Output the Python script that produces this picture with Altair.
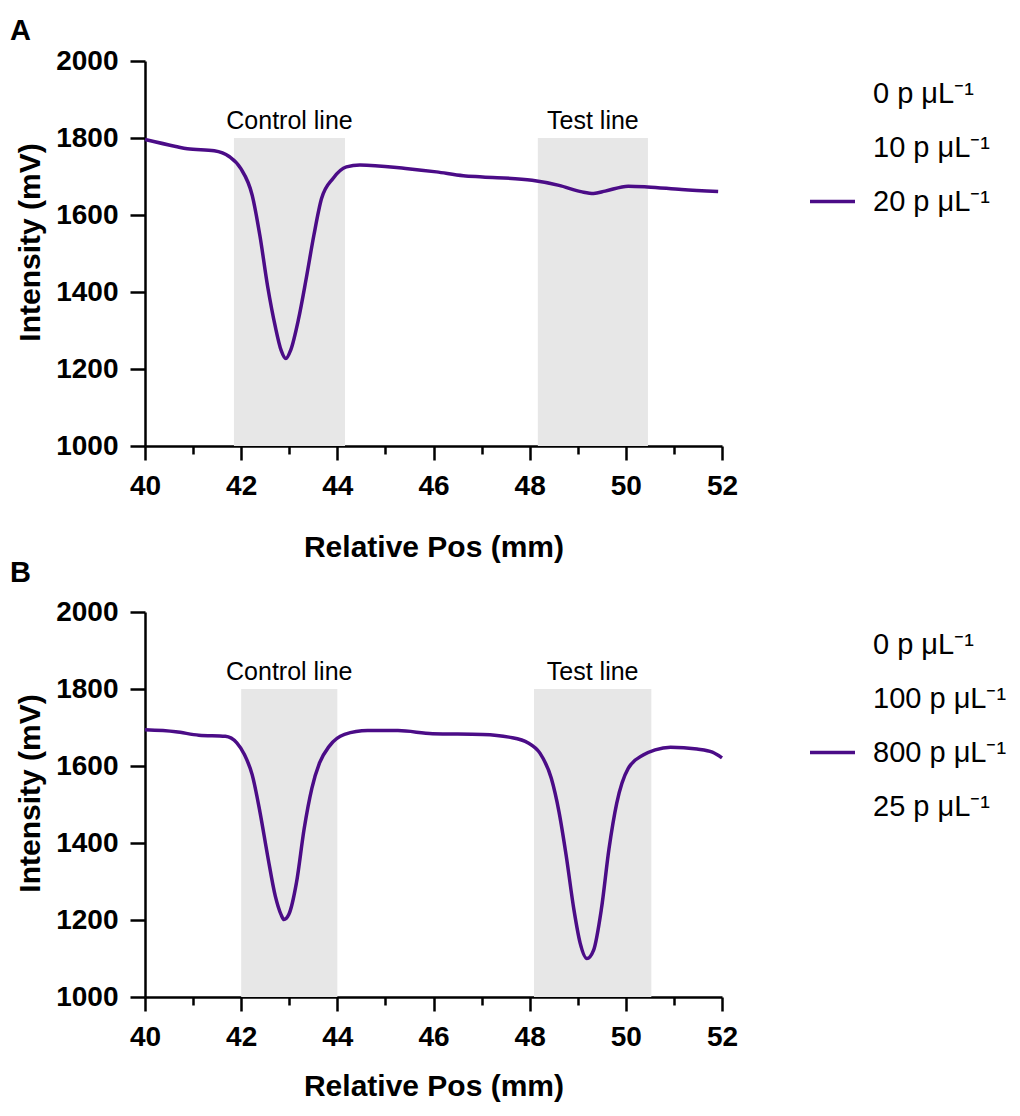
import altair as alt
import pandas as pd

FONT = "Liberation Sans"
LINE_COLOR = "#4B0C87"
BAND_COLOR = "#E7E7E7"

# Panel A curve
pos_a = [40.0, 40.64, 40.88, 41.44, 41.75, 41.99, 42.23, 42.39, 42.55, 42.71, 42.83, 42.93,
         43.03, 43.19, 43.35, 43.51, 43.67, 43.91, 44.19, 44.47, 45.42, 46.06, 46.62, 47.02,
         48.05, 48.61, 49.09, 49.33, 49.57, 50.05, 50.45, 51.16, 51.92]
int_a = [1796, 1778, 1772, 1767, 1752, 1721, 1651, 1546, 1415, 1310, 1249, 1227,
         1249, 1328, 1433, 1546, 1642, 1695, 1725, 1730, 1721, 1712, 1702, 1699,
         1690, 1677, 1660, 1656, 1662, 1675, 1673, 1666, 1661]

# Panel B curve
pos_b = [40.0, 40.64, 41.12, 41.67, 41.91, 42.07, 42.23, 42.39, 42.55, 42.71, 42.83, 42.89,
         42.99, 43.15, 43.31, 43.47, 43.63, 43.83, 44.15, 44.63, 45.26, 45.98, 47.02, 47.57,
         47.97, 48.21, 48.45, 48.61, 48.76, 48.92, 49.05, 49.19, 49.33, 49.49, 49.65, 49.81,
         50.05, 50.37, 50.61, 50.93, 51.48, 51.8, 52.0]
int_b = [1694, 1689, 1680, 1677, 1660, 1629, 1577, 1481, 1367, 1262, 1214, 1201,
         1214, 1297, 1437, 1542, 1608, 1651, 1682, 1692, 1692, 1684, 1682, 1675,
         1660, 1634, 1568, 1481, 1367, 1227, 1140, 1100, 1122, 1227, 1385, 1503,
         1594, 1629, 1642, 1649, 1644, 1636, 1621]

band_labels = ["Control line", "Test line"]
band_start_a = [41.85, 48.17]
band_end_a = [44.16, 50.46]
band_start_b = [42.0, 48.09]
band_end_b = [44.0, 50.53]
band_low = 1000
band_high = 1800

legend_a = ["0 p μL⁻¹", "10 p μL⁻¹", "20 p μL⁻¹"]
legend_b = ["0 p μL⁻¹", "100 p μL⁻¹", "800 p μL⁻¹", "25 p μL⁻¹"]
shown_a = "20 p μL⁻¹"
shown_b = "800 p μL⁻¹"

x_ticks = list(range(40, 53))
y_ticks = list(range(1000, 2001, 100))


def panel(letter, pos, inten, starts, ends, legend_labels, shown, x_title_pad, title_offset):
    curve = pd.DataFrame({"pos": pos, "intensity": inten, "series": shown})
    bands = pd.DataFrame({"start": starts, "end": ends, "label": band_labels,
                          "low": band_low, "high": band_high})
    xs = alt.Scale(domain=[40, 52], nice=False, zero=False)
    ys = alt.Scale(domain=[1000, 2000], nice=False, zero=False)
    x_axis = alt.Axis(values=x_ticks, title="Relative Pos (mm)",
                      labelExpr="datum.value % 2 == 0 ? datum.label : ''",
                      tickSize={"condition": {"test": "datum.value % 2 == 0", "value": 14}, "value": 8},
                      labelOverlap=False, labelFlush=False, titlePadding=x_title_pad)
    y_axis = alt.Axis(values=y_ticks, title="Intensity (mV)", format="d",
                      labelExpr="datum.value % 200 == 0 ? datum.label : ''",
                      tickSize={"condition": {"test": "datum.value % 200 == 0", "value": 15}, "value": 8},
                      labelOverlap=False, labelFlush=False, titleY=181)

    rects = alt.Chart(bands).mark_rect(color=BAND_COLOR).encode(
        x=alt.X("start:Q", scale=xs, axis=x_axis),
        x2="end:Q",
        y=alt.Y("low:Q", scale=ys, axis=y_axis),
        y2="high:Q",
    )
    texts = alt.Chart(bands).transform_calculate(
        mid="(datum.start + datum.end) / 2"
    ).mark_text(font=FONT, fontSize=25, baseline="alphabetic", dy=-9, color="black").encode(
        x=alt.X("mid:Q", scale=xs),
        y=alt.Y("high:Q", scale=ys),
        text="label:N",
    )
    color_range = [LINE_COLOR if lab == shown else "rgba(0,0,0,0)" for lab in legend_labels]
    line = alt.Chart(curve).mark_line(strokeWidth=3.5, interpolate="monotone").encode(
        x=alt.X("pos:Q", scale=xs),
        y=alt.Y("intensity:Q", scale=ys),
        color=alt.Color("series:N", scale=alt.Scale(domain=legend_labels, range=color_range),
                        legend=alt.Legend(orient="none", legendX=663, legendY=8, title=None,
                                          symbolType="stroke", symbolSize=2025,
                                          symbolStrokeWidth=3.5, labelFont=FONT,
                                          labelFontSize=29, labelColor="black",
                                          labelOffset=16, rowPadding=14,
                                          labelLimit=300)),
    )
    return alt.layer(rects, texts, line).properties(
        width=577, height=385,
        title=alt.TitleParams(letter, anchor="start", frame="group", dx=-135,
                              font=FONT, fontSize=29, fontWeight="bold",
                              color="black", offset=title_offset),
    )


chart = alt.vconcat(
    panel("A", pos_a, int_a, band_start_a, band_end_a, legend_a, shown_a, 32, 1),
    panel("B", pos_b, int_b, band_start_b, band_end_b, legend_b, shown_b, 20, 10),
    spacing=-3,
).resolve_scale(color="independent").resolve_legend(color="independent").configure_view(
    stroke=None
).configure_axis(
    grid=False, domainColor="black", domainWidth=2.5, tickColor="black", tickWidth=2.5,
    labelFont=FONT, labelFontSize=28, labelFontWeight="bold",
    labelColor="black", labelPadding=12, titleFont=FONT, titleFontSize=30,
    titleFontWeight="bold", titleColor="black",
).configure_axisY(titlePadding=10).properties(
    padding={"left": 10, "top": 17, "right": 5, "bottom": 5}
)

chart.save("out.html", embed_options={"renderer": "svg", "actions": False})
